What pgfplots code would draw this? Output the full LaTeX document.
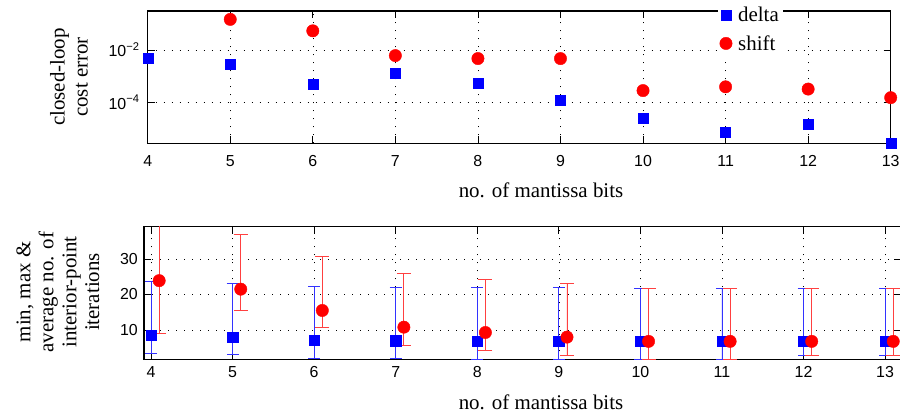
\documentclass[border=0pt]{standalone}
\usepackage{fontspec}
\setmainfont{Liberation Serif}
\newfontfamily\sfont{Liberation Sans}
\usepackage{pgfplots}
\pgfplotsset{compat=1.18}
\usepackage{pgfplotstable}

\pgfplotstableread{
x val
4 4.9e-3
5 2.9e-3
6 4.9e-4
7 1.3e-3
8 5.4e-4
9 1.2e-4
10 2.4e-5
11 7.0e-6
12 1.4e-5
13 2.7e-6
}\topdelta
\pgfplotstableread{
x val
5 0.148
6 0.054
7 6.1e-3
8 4.7e-3
9 4.7e-3
10 2.8e-4
11 3.9e-4
12 3.2e-4
13 1.5e-4
}\topshift
\pgfplotstableread{
x mean min max
4 8.5 3.4 23.8
5 8.0 3.0 23.2
6 7.1 2.0 22.3
7 7.0 1.9 22.0
8 6.8 1.8 21.9
9 6.8 1.8 21.9
10 6.8 1.8 21.8
11 6.8 1.8 21.8
12 6.8 2.7 21.8
13 6.8 2.7 21.8
}\botdelta
\pgfplotstableread{
x mean min max
4.1 23.9 8.9 39.6
5.1 21.5 15.4 36.8
6.1 15.5 10.6 30.7
7.1 10.8 5.7 25.8
8.1 9.3 4.2 24.3
9.1 8.0 2.9 23.0
10.1 6.8 1.8 21.8
11.1 6.8 1.8 21.8
12.1 6.8 2.7 21.8
13.1 6.8 2.7 21.8
}\botshift

\pgfplotsset{
  common/.style={
    scale only axis, anchor=south west,
    grid=major,
    grid style={black, line width=0.5bp, dash pattern=on 0.8bp off 7.2bp},
    tick align=inside, major tick length=7bp,
    tick style={black, line width=0.7bp},
    axis line style={line width=1.1bp},
    ticklabel style={font=\sfont\fontsize{16}{16}\selectfont},
    /pgf/number format/assume math mode=true,
    xtick={4,...,13},
    clip marker paths=false,
  },
}

\begin{document}
\begin{tikzpicture}
\useasboundingbox (0,0) rectangle (900bp,416bp);
\begin{axis}[common,
  at={(147.7bp,272.7bp)}, width=743bp, height=132.3bp,
  xmin=4, xmax=13, ymode=log, ymin=2.7e-6, ymax=0.31,
  ytick={1e-4,1e-2}, yticklabels={10\textsuperscript{−4},10\textsuperscript{−2}},
  yminorticks=false,
  xticklabel style={yshift=-8.6bp},
  yticklabel style={xshift=-4.7bp},
  legend style={at={(axis description cs:0.767,1.067)}, anchor=north west,
    draw=none, fill=white, font=\fontsize{21}{21}\selectfont,
    row sep=8bp, inner xsep=2bp, inner ysep=3bp},
  legend cell align=left,
]
\addplot[only marks, mark=square*, mark size=5bp, draw=blue, fill=blue] table[x=x,y=val] {\topdelta};
\addlegendentry{\hspace{4bp}delta}
\addplot[only marks, mark=*, mark size=6.2bp, draw=red, fill=red] table[x=x,y=val] {\topshift};
\addlegendentry{\hspace{4bp}shift}
\end{axis}

\begin{axis}[common,
  at={(144bp,56.7bp)}, width=757.4bp, height=132.6bp,
  xmin=3.914, xmax=13.2, ymin=1.75, ymax=39.1,
  ytick={10,20,30},
  xticklabel style={yshift=-4bp},
  yticklabel style={xshift=-2.7bp},
]
\addplot[only marks, mark=square*, mark size=5.25bp, draw=blue, fill=blue,
  error bars/.cd, y dir=both, y explicit,
  error bar style={blue!80, line width=0.9bp},
  error mark options={blue!80, line width=0.9bp, mark size=6bp, rotate=90}]
  table[x=x, y=mean, y error plus expr=\thisrow{max}-\thisrow{mean}, y error minus expr=\thisrow{mean}-\thisrow{min}] {\botdelta};
\addplot[only marks, mark=*, mark size=6.2bp, draw=red, fill=red,
  error bars/.cd, y dir=both, y explicit,
  error bar style={red!75, line width=0.9bp},
  error mark options={red!75, line width=0.9bp, mark size=7bp, rotate=90}]
  table[x=x, y=mean, y error plus expr=\thisrow{max}-\thisrow{mean}, y error minus expr=\thisrow{mean}-\thisrow{min}] {\botshift};
\end{axis}

\node[font=\fontsize{21}{21}\selectfont] at (541bp,226bp) {no. of mantissa bits};
\node[font=\fontsize{21}{21}\selectfont] at (541bp,14bp) {no. of mantissa bits};
\node[rotate=90, align=center, font=\fontsize{21}{23}\selectfont] at (69bp,339bp) {closed-loop\\cost error};
\node[rotate=90, align=center, font=\fontsize{21}{23}\selectfont] at (58bp,124bp) {min, max \&\\average no. of\\interior-point\\iterations};
\end{tikzpicture}
\end{document}
